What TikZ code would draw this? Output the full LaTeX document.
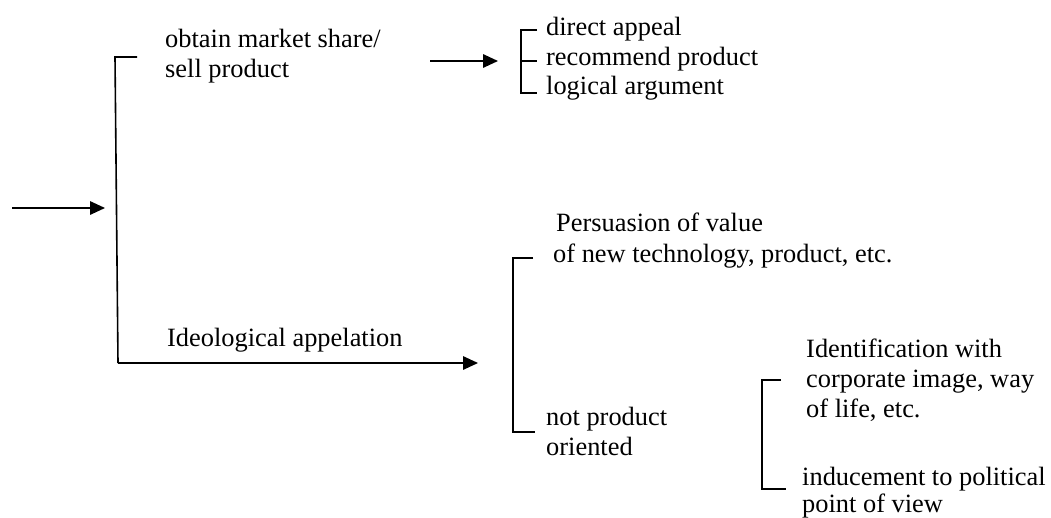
\documentclass[tikz,border=0pt]{standalone}
\usepackage{fontspec}
\setmainfont{Liberation Serif}
\usetikzlibrary{arrows.meta}
\begin{document}
\begin{tikzpicture}[x=1pt,y=-1pt,
  lbl/.style={anchor=base west, inner sep=0pt, font=\fontsize{26.4}{30}\selectfont},
  link/.style={line width=1.6pt, line cap=butt, line join=miter},
  arr/.style={link, -{Triangle[length=15pt,width=13.5pt]}}]
\useasboundingbox (0,0) rectangle (1051,517);

% ---- labels ----
\node[lbl] (obtainA) at (165,47) {obtain market share/};
\node[lbl] (obtainB) at (165,77) {sell product};
\node[lbl] (direct)  at (546,35) {direct appeal};
\node[lbl] (recomm)  at (546,65) {recommend product};
\node[lbl] (logic)   at (546,94) {logical argument};
\node[lbl] (ideo)    at (167,346) {Ideological appelation};
\node[lbl] (persA)   at (556,231) {Persuasion of value};
\node[lbl] (persB)   at (553,262) {of new technology, product, etc.};
\node[lbl] (notA)    at (546,425) {not product};
\node[lbl] (notB)    at (546,455) {oriented};
\node[lbl] (identA)  at (806,357) {Identification with};
\node[lbl] (identB)  at (806,387) {corporate image, way};
\node[lbl] (identC)  at (806,417) {of life, etc.};
\node[lbl] (induceA) at (802,485) {inducement to political};
\node[lbl] (induceB) at (802,512) {point of view};

% ---- anchor points of the connectors ----
\coordinate (inStart) at (12,208);
\coordinate (inEnd)   at (105,208);
\coordinate (mainTop) at (115,57);
\coordinate (mainTopTick) at (137,57);
\coordinate (mainBot) at (118,363);
\coordinate (ideoEnd) at (478,363);
\coordinate (sellStart) at (430,61);
\coordinate (sellEnd)   at (498,61);

% incoming arrow
\draw[arr] (inStart) -- (inEnd);
% main bracket and ideological branch
\draw[link] (mainTopTick) -- (mainTop) -- (mainBot);
\draw[arr] (mainBot) -- (ideoEnd);
% product branch arrow
\draw[arr] (sellStart) -- (sellEnd);

% three-way bracket: direct / recommend / logical
\draw[link] (537,30) -- (521,30) -- (521,93) -- (537,93);
\draw[link] (521,61) -- (537,61);

% bracket: persuasion / not product oriented
\draw[link] (533,258) -- (513,258) -- (513,432) -- (535,432);

% bracket: identification / inducement
\draw[link] (781,380) -- (762,380) -- (762,489) -- (786,489);
\end{tikzpicture}
\end{document}
